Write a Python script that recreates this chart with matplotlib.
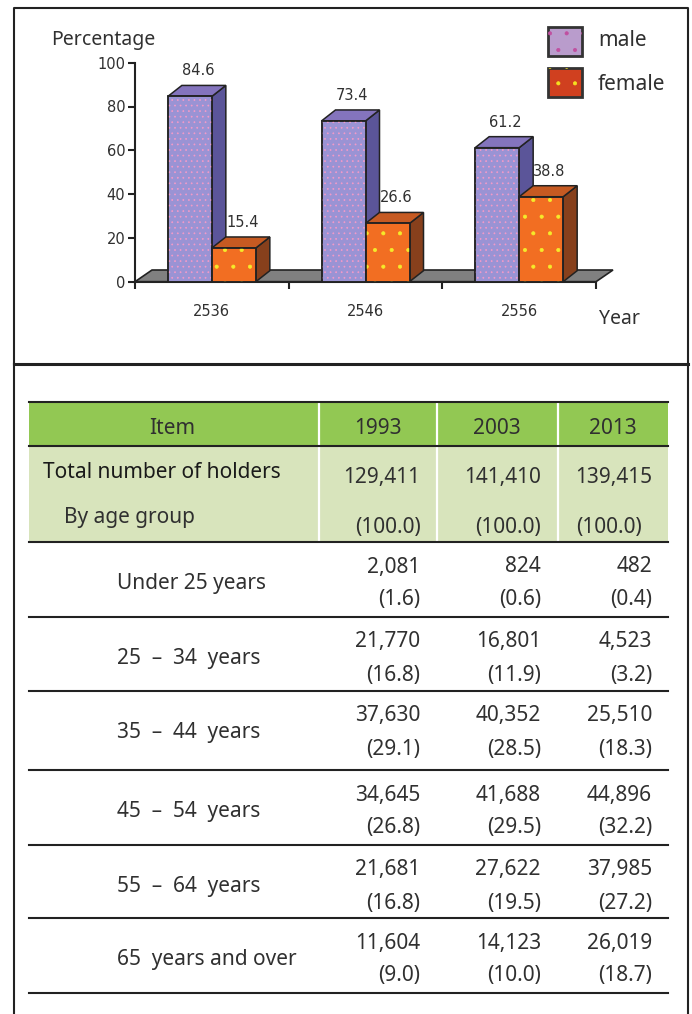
import numpy as np
import matplotlib.pyplot as plt
from matplotlib.patches import Polygon, Rectangle

plt.rcParams['font.family'] = ['Noto Sans', 'DejaVu Sans']
plt.rcParams['hatch.linewidth'] = 0.5

# Chart data
years_be = ['2536', '2546', '2556']
male = [84.6, 73.4, 61.2]
female = [15.4, 26.6, 38.8]

# Table data
col_years = ['1993', '2003', '2013']
total_holders = ['129,411', '141,410', '139,415']
total_share = ['(100.0)', '(100.0)', '(100.0)']
age_groups = ['Under 25 years', '25  \u2013  34  years', '35  \u2013  44  years',
              '45  \u2013  54  years', '55  \u2013  64  years', '65  years and over']
counts = [['2,081', '824', '482'],
          ['21,770', '16,801', '4,523'],
          ['37,630', '40,352', '25,510'],
          ['34,645', '41,688', '44,896'],
          ['21,681', '27,622', '37,985'],
          ['11,604', '14,123', '26,019']]
shares = [['(1.6)', '(0.6)', '(0.4)'],
          ['(16.8)', '(11.9)', '(3.2)'],
          ['(29.1)', '(28.5)', '(18.3)'],
          ['(26.8)', '(29.5)', '(32.2)'],
          ['(16.8)', '(19.5)', '(27.2)'],
          ['(9.0)', '(10.0)', '(18.7)']]

W, H = 692, 1014
fig = plt.figure(figsize=(W / 100, H / 100), dpi=100)

# background axes in pixel units (frames + table)
bg = fig.add_axes([0, 0, 1, 1])
bg.set_xlim(0, W)
bg.set_ylim(H, 0)
bg.axis('off')

dark = '#222222'
# frames
bg.plot([14, 14, 688, 688], [364, 8, 8, 364], color=dark, lw=1.5)
bg.plot([14, 688], [364, 364], color=dark, lw=2.2)
bg.plot([14, 14], [364, H], color=dark, lw=1.5)
bg.plot([688, 688], [364, H], color=dark, lw=1.5)

# table layout
tx0, tx1 = 29, 668
seps = [318.5, 436.7, 557.8]
col_mid = [377.6, 497, 613]
num_right = [420, 541, 652]
bg.add_patch(Rectangle((tx0, 402), tx1 - tx0, 44, fc='#92c853', ec='none'))
bg.add_patch(Rectangle((tx0, 446), tx1 - tx0, 96, fc='#d8e4bc', ec='none'))
for sx in seps:
    bg.plot([sx, sx], [402, 542], color='white', lw=1.6)
row_lines = [402, 445.5, 542, 617, 691, 770, 845, 918, 993]
for ry in row_lines:
    bg.plot([tx0, tx1], [ry, ry], color=dark, lw=1.5)

tcol = '#303030'
fs = 15
bg.text(172, 429, 'Item', ha='center', va='center', fontsize=fs, color=tcol)
for j, y in enumerate(col_years):
    bg.text(col_mid[j], 429, y, ha='center', va='center', fontsize=fs, color=tcol)

bg.text(43, 472, 'Total number of holders', ha='left', va='center', fontsize=fs,
        color='#1a1a1a', fontweight='semibold')
bg.text(64, 518, 'By age group', ha='left', va='center', fontsize=fs, color=tcol)
share_right_total = [421, 541, 642]
for j in range(3):
    bg.text(num_right[j], 478, total_holders[j], ha='right', va='center', fontsize=fs, color=tcol)
    bg.text(share_right_total[j], 527, total_share[j], ha='right', va='center', fontsize=fs, color=tcol)

body_tops = row_lines[2:-1]
for i, label in enumerate(age_groups):
    top = body_tops[i]
    y_num = top + 25
    y_sh = top + 58
    bg.text(117, (y_num + y_sh) / 2, label, ha='left', va='center', fontsize=fs, color=tcol)
    for j in range(3):
        bg.text(num_right[j], y_num, counts[i][j], ha='right', va='center', fontsize=fs, color=tcol)
        bg.text(num_right[j], y_sh, shares[i][j], ha='right', va='center', fontsize=fs, color=tcol)

# legend keys
bg.add_patch(Rectangle((548, 27), 34, 29, fc='#b99ccc', ec='#333333', lw=2))
bg.add_patch(Rectangle((548, 27), 34, 29, fill=False, hatch='.', ec='#c04fa0', lw=0))
bg.add_patch(Rectangle((548, 68), 34, 29, fc='#d0401f', ec='#333333', lw=2))
bg.add_patch(Rectangle((548, 68), 34, 29, fill=False, hatch='.', ec='#f4e020', lw=0))
bg.text(598, 41, 'male', ha='left', va='center', fontsize=15, color=tcol)
bg.text(598, 85, 'female', ha='left', va='center', fontsize=15, color=tcol)

bg.text(51, 40, 'Percentage', ha='left', va='center', fontsize=14, color=tcol)
bg.text(599, 319, 'Year', ha='left', va='center', fontsize=14, color=tcol)

# chart axes
ax = fig.add_axes([135 / W, 1 - 281.7 / H, 461 / W, 219 / H])
ax.patch.set_alpha(0)
ax.set_xlim(0, 3)
ax.set_ylim(0, 100)
for s in ['top', 'right']:
    ax.spines[s].set_visible(False)
for s in ['left', 'bottom']:
    ax.spines[s].set_linewidth(1.5)
    ax.spines[s].set_color(dark)

ax.set_yticks([0, 20, 40, 60, 80, 100])
ax.set_xticks([0, 1, 2, 3], labels=[])
ax.set_xticks([0.5, 1.5, 2.5], labels=years_be, minor=True)
ax.tick_params(axis='y', which='major', length=5, width=1.5, color=dark, pad=2,
               labelsize=10.5, labelcolor=tcol)
ax.tick_params(axis='x', which='major', length=5, width=1.5, color=dark)
ax.tick_params(axis='x', which='minor', length=0, pad=16, labelsize=10.5, labelcolor=tcol)
for lab in ax.get_yticklabels() + ax.get_xticklabels(minor=True):
    lab.set_family('DejaVu Sans')

px_x = 461 / 3
px_y = 219 / 100
bw = 44 / px_x
ddx = 14 / px_x
ddy = 11 / px_y
fdx = 17 / px_x
fdy = 11.7 / px_y

floor = Polygon([(0, 0), (3, 0), (3 + fdx, fdy), (fdx, fdy)], closed=True,
                fc='#808080', ec=dark, lw=1.2, clip_on=False, zorder=1)
ax.add_patch(floor)

styles = {
    'male': dict(front='#9a93d4', top='#8474bd', side='#5b5599', hatch='...', hc='#f49ac8'),
    'female': dict(front='#f26e22', top='#c65a22', side='#87401c', hatch='.', hc='#f5ea2a'),
}


def draw_bar(x0, h, st):
    side = Polygon([(x0 + bw, 0), (x0 + bw + ddx, ddy), (x0 + bw + ddx, h + ddy), (x0 + bw, h)],
                   fc=st['side'], ec=dark, lw=1.1, zorder=3, clip_on=False)
    top = Polygon([(x0, h), (x0 + bw, h), (x0 + bw + ddx, h + ddy), (x0 + ddx, h + ddy)],
                  fc=st['top'], ec=dark, lw=1.1, zorder=3, clip_on=False)
    front = Rectangle((x0, 0), bw, h, fc=st['front'], ec=dark, lw=1.1, zorder=3, clip_on=False)
    hatch = Rectangle((x0, 0), bw, h, fill=False, hatch=st['hatch'], ec=st['hc'], lw=0,
                      zorder=3, clip_on=False)
    for p in (side, top, front, hatch):
        ax.add_patch(p)
    edge = Rectangle((x0, 0), bw, h, fill=False, ec=dark, lw=1.1, zorder=3, clip_on=False)
    ax.add_patch(edge)
    ax.text(x0 + bw / 2 + ddx * 0.6, h + ddy + 6.6, f'{h:.1f}', ha='center', va='center',
            fontsize=10.5, color=tcol, family='DejaVu Sans')


for i in range(len(years_be)):
    c = i + 0.5
    draw_bar(c - bw, male[i], styles['male'])
    draw_bar(c, female[i], styles['female'])

fig.savefig('out.png', dpi=100)
